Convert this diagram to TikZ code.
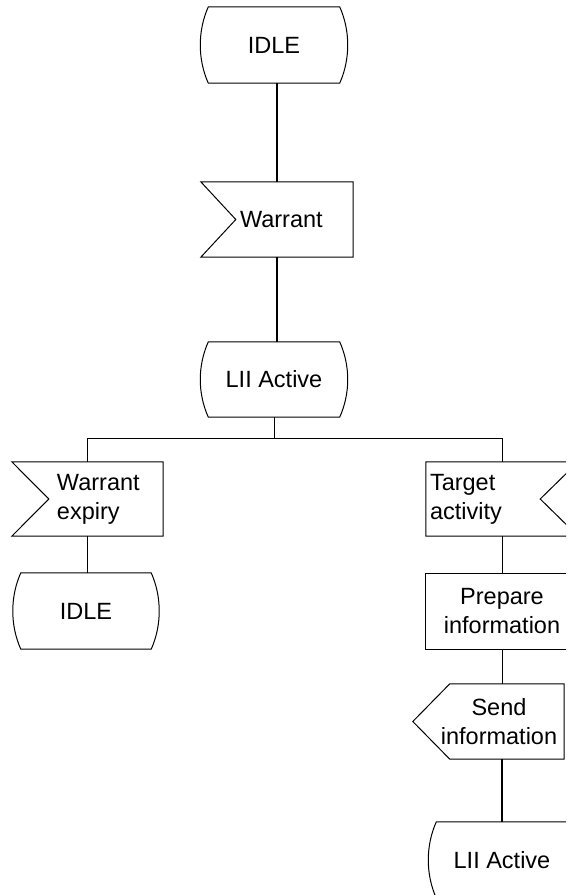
\documentclass[tikz,border=0pt]{standalone}
\usepackage{fontspec}
\setmainfont{Liberation Sans}
\usetikzlibrary{calc}
\newcommand\drawstate[1]{%
  \draw[box] ($(#1.north west)+(8,0)$) -- ($(#1.north east)+(-8,0)$)
    .. controls ($(#1.north east)+(2.7,24)$) and ($(#1.south east)+(2.7,-24)$) .. ($(#1.south east)+(-8,0)$)
    -- ($(#1.south west)+(8,0)$)
    .. controls ($(#1.south west)+(-2.7,-24)$) and ($(#1.north west)+(-2.7,24)$) .. cycle;}
\newcommand\drawinleft[2]{%
  \draw[box] (#1.north west) -- (#1.north east) -- (#1.south east) -- (#1.south west) -- ($(#1.west)+(#2,0)$) -- cycle;}
\newcommand\drawinright[2]{%
  \draw[box] (#1.north west) -- (#1.north east) -- ($(#1.east)+(-#2,0)$) -- (#1.south east) -- (#1.south west) -- cycle;}
\newcommand\drawoutleft[2]{%
  \draw[box] (#1.west) -- ($(#1.north west)+(#2,0)$) -- (#1.north east) -- (#1.south east) -- ($(#1.south west)+(#2,0)$) -- cycle;}
\begin{document}
\begin{tikzpicture}[x=1pt,y=-1pt,
  lbl/.style={draw=none, inner sep=0pt, font=\fontsize{23.5}{29}\selectfont},
  box/.style={draw=black, line width=1pt, line join=miter},
  thinline/.style={draw=black, line width=1pt},
  thickline/.style={draw=black, line width=2.5pt}]
\useasboundingbox (0,0) rectangle (566,895);
\clip (0,0) rectangle (566,895);

% nodes
\node[lbl, minimum width=147pt, minimum height=76pt] (idle1) at (274,45) {IDLE};
\node[lbl, minimum width=152pt, minimum height=75pt, text width=152pt, align=left] (warrant) at (277,219.5) {\hspace*{39pt}Warrant};
\node[lbl, minimum width=147pt, minimum height=75pt] (lii1) at (274,379.5) {LII Active};
\node[lbl, minimum width=151pt, minimum height=74pt, text width=151pt, align=left] (expiry) at (87.5,499) {\hspace*{45pt}Warrant\\\hspace*{45pt}expiry};
\node[lbl, minimum width=146pt, minimum height=76pt] (idle2) at (86,611) {IDLE};
\node[lbl, minimum width=152pt, minimum height=74pt, text width=144pt, align=left] (target) at (502,499) {Target\\activity};
\node[lbl, minimum width=152pt, minimum height=75pt, align=center] (prep) at (502,611.5) {Prepare\\information};
\node[lbl, minimum width=151pt, minimum height=75pt, text width=151pt, align=center] (send) at (488.5,721.5) {\hspace*{21pt}Send\\\hspace*{21pt}information};
\node[lbl, minimum width=147pt, minimum height=76pt] (lii2) at (502,860) {LII Active};

% outlines
\drawstate{idle1}
\drawinleft{warrant}{35}
\drawstate{lii1}
\drawinleft{expiry}{37}
\drawstate{idle2}
\drawinright{target}{38}
\draw[box] (prep.north west) rectangle (prep.south east);
\drawoutleft{send}{37}
\drawstate{lii2}

% connectors
\draw[thickline] (warrant.north |- idle1.south) -- (warrant.north);
\draw[thickline] (warrant.south) -- (warrant.south |- lii1.north);
\path (lii1.south) ++(0,21) coordinate (fork);
\draw[thinline] (lii1.south) -- (fork);
\draw[thinline] (expiry.north) |- (fork) -| (target.north);
\draw[thinline] (expiry.south) -- (expiry.south |- idle2.north);
\draw[thinline] (target.south) -- (prep.north);
\draw[thinline] (prep.south) -- (prep.south |- send.north);
\draw[thickline] (lii2.north |- send.south) -- (lii2.north);
\end{tikzpicture}
\end{document}
